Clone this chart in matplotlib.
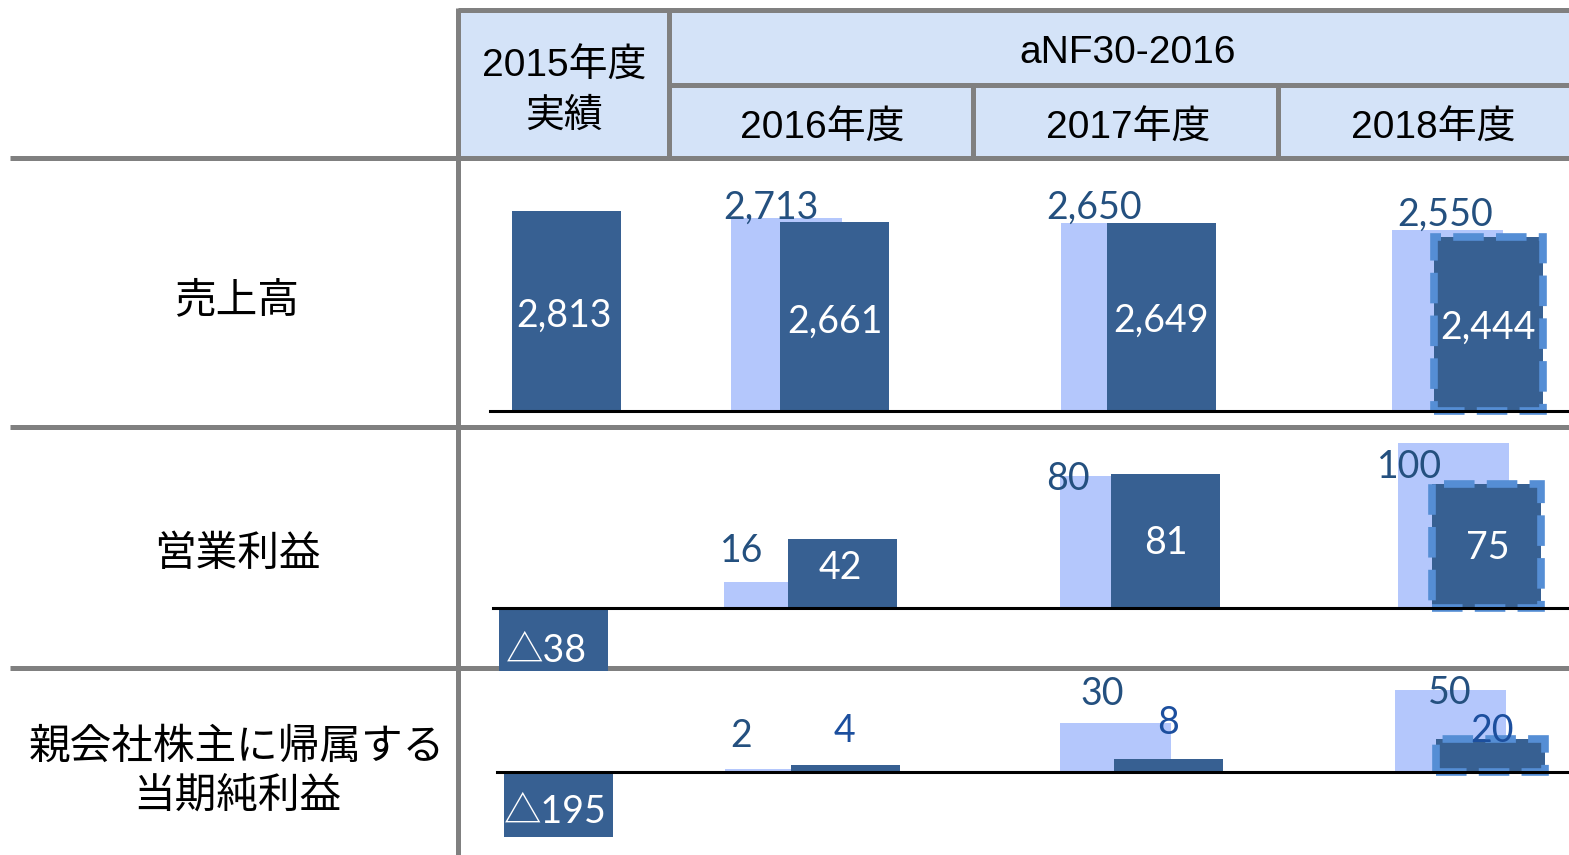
import matplotlib.pyplot as plt
from matplotlib.patches import Rectangle

# ---- data ----
years = ['2015年度\n実績', '2016年度', '2017年度', '2018年度']
plan_name = 'aNF30-2016'
row_titles = ['売上高', '営業利益', '親会社株主に帰属する\n当期純利益']

# 2015 actual, 2016-2018 results / forecast (dark bars)
sales_actual = [2813, 2661, 2649, 2444]
op_actual = [-38, 42, 81, 75]
ni_actual = [-195, 4, 8, 20]
# aNF30-2016 plan for 2016-2018 (light bars)
sales_plan = [2713, 2650, 2550]
op_plan = [16, 80, 100]
ni_plan = [2, 30, 50]

# ---- style / layout (figure pixels) ----
W, H = 1569, 855
DARK = '#376092'
LIGHT = '#b4c7fc'
EDGE = '#558ed5'
HEAD = '#d4e3f8'
GRID = '#808080'
PLAN_TXT = '#24507f'
ACT_TXT = '#1c4f9e'
NUM_FONT = ['Lato', 'Noto Sans CJK JP']
HEAD_FONT = ['Liberation Sans', 'Noto Sans CJK JP']
JP_FONT = ['Noto Sans CJK JP', 'DejaVu Sans']
NUM_DY = -3


def fmt(v):
    return f'{v:,}' if v >= 0 else f'△{-v:,}'


fig = plt.figure(figsize=(W / 100, H / 100), dpi=100)

# table background
bg = fig.add_axes([0, 0, 1, 1])
bg.set_xlim(0, W)
bg.set_ylim(H, 0)
bg.axis('off')
bg.add_patch(Rectangle((458, 10), W - 458, 148, facecolor=HEAD, edgecolor='none'))
lw_grid = 3.6
for xs, ys in [([458, W], [10, 10]), ([669, W], [85, 85]),
               ([669, 669], [10, 158]), ([973, 973], [85, 158]), ([1278, 1278], [85, 158]),
               ([10, W], [158, 158]), ([10, W], [427, 427]), ([10, W], [668, 668]),
               ([458, 458], [8, H])]:
    bg.plot(xs, ys, color=GRID, lw=lw_grid, solid_capstyle='butt')

bg.text(564, 92, years[0], ha='center', va='center', fontsize=28,
        family=HEAD_FONT, linespacing=1.47)
bg.text(1128, 53, plan_name, ha='center', va='center', fontsize=28, family=HEAD_FONT)
for cx, lab in zip([822, 1128, 1433], years[1:]):
    bg.text(cx, 129, lab, ha='center', va='center', fontsize=28, family=HEAD_FONT)

for cy, lab in zip([301, 554, 772], row_titles):
    bg.text(237, cy, lab, ha='center', va='center', fontsize=30,
            family=JP_FONT, linespacing=1.25)

rows = [
    dict(actual=sales_actual, plan=sales_plan, top=160, bottom=420, base=411,
         scale=0.0711, x0=490,
         dark_x=[566, 834.5, 1161.5, 1488.5], light_x=[786.5, 1116.5, 1447.5],
         plan_off=[(-16, 13), (-22, 18), (-2, 18)],
         act_off=[(-2, -2), (0, -2), (0, -1), (0, -1)],
         inside=[True, True, True, True]),
    dict(actual=op_actual, plan=op_plan, top=430, bottom=680, base=608,
         scale=1.65, x0=493,
         dark_x=[553.5, 842.5, 1165.5, 1486], light_x=[779.5, 1115, 1453],
         plan_off=[(-38, 34), (-47, 0), (-43, -21)],
         act_off=[(-7, -9), (-2, 8), (0, 1), (2, 1)],
         inside=[True, True, True, True]),
    dict(actual=ni_actual, plan=ni_plan, top=672, bottom=837, base=772,
         scale=1.65, x0=497,
         dark_x=[558, 845, 1168, 1490.5], light_x=[780, 1115, 1450],
         plan_off=[(-39, 36), (-13, 32), (0, 0)],
         act_off=[(-3, -4), (-1, 37), (0, 39), (2, 11)],
         inside=[True, False, False, False]),
]

for r in rows:
    ax = fig.add_axes([0, 1 - r['bottom'] / H, 1, (r['bottom'] - r['top']) / H])
    ax.set_xlim(0, W)
    ymin = -(r['bottom'] - r['base']) / r['scale']
    ax.set_ylim(ymin, (r['base'] - r['top']) / r['scale'])
    ax.axis('off')

    ax.bar(r['light_x'], r['plan'], width=111, color=LIGHT, zorder=1)
    bars = ax.bar(r['dark_x'], r['actual'], width=109, color=DARK, zorder=2)
    # 2018 forecast bar: dashed outline
    bars[-1].set_edgecolor(EDGE)
    bars[-1].set_linewidth(5.5)
    bars[-1].set_linestyle((0, (4, 1.6)))
    ax.axhline(0, xmin=r['x0'] / W, xmax=1, color='black', lw=2.2, zorder=3)

    for x, v, (dx, dy) in zip(r['light_x'], r['plan'], r['plan_off']):
        ax.annotate(fmt(v), (x, v), xytext=(dx, dy + NUM_DY), textcoords='offset pixels',
                    ha='center', va='center', fontsize=27, family=NUM_FONT,
                    color=PLAN_TXT, zorder=5, annotation_clip=False)
    for x, v, (dx, dy), ins in zip(r['dark_x'], r['actual'], r['act_off'], r['inside']):
        y = max(v, ymin) / 2 if ins else v
        ax.annotate(fmt(v), (x, y), xytext=(dx, dy + NUM_DY), textcoords='offset pixels',
                    ha='center', va='center', fontsize=27, family=NUM_FONT,
                    color='white' if ins else ACT_TXT, zorder=5, annotation_clip=False)

fig.savefig('out.png', dpi=100)
